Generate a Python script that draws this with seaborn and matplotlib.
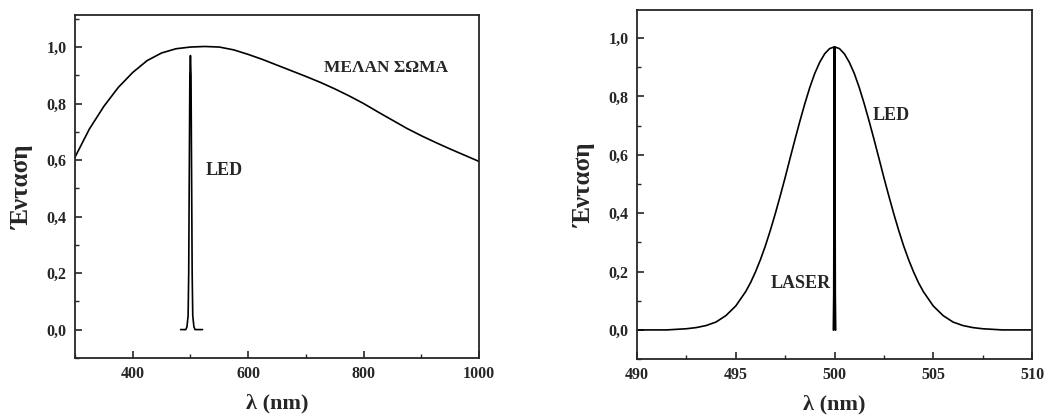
"""Black body vs LED vs LASER spectra, two panels."""

import matplotlib
matplotlib.use("Agg")
import matplotlib.pyplot as plt
from matplotlib.ticker import MultipleLocator, FuncFormatter
import seaborn as sns

# --- left panel: black body + LED (nm, normalised intensity) ---
bb_wavelength = [300, 325, 350, 375, 400, 425, 450, 475, 500, 525, 550, 575, 600, 625,
                 650, 675, 700, 725, 750, 775, 800, 825, 850, 875, 900, 925, 950, 975, 1000]
bb_intensity = [0.61, 0.71, 0.79, 0.857, 0.91, 0.952, 0.979, 0.994, 1.0, 1.002, 1.0, 0.99,
                0.974, 0.956, 0.936, 0.916, 0.896, 0.875, 0.852, 0.827, 0.80, 0.77, 0.741,
                0.712, 0.686, 0.662, 0.639, 0.617, 0.595]

led_wide_wavelength = [483, 492, 494, 496, 497, 498, 499, 500, 501, 502, 503, 504, 506, 508, 521]
led_wide_intensity = [0.0, 0.0, 0.01, 0.05, 0.2, 0.55, 0.9, 0.97, 0.9, 0.55, 0.2, 0.05, 0.01, 0.0, 0.0]

# --- right panel: LED + LASER zoomed around 500 nm ---
led_wavelength = [490, 491, 491.5, 492, 492.5, 493, 493.5, 494, 494.5, 495, 495.5,
                  495.75, 496, 496.25, 496.5, 496.75, 497, 497.25, 497.5, 497.75, 498,
                  498.25, 498.5, 498.75, 499, 499.25, 499.5, 499.75, 500, 500.25, 500.5,
                  500.75, 501, 501.25, 501.5, 501.75, 502, 502.25, 502.5, 502.75, 503,
                  503.25, 503.5, 503.75, 504, 504.25, 504.5, 505, 505.5, 506, 506.5, 507,
                  507.5, 508, 508.5, 509, 510]
led_intensity = [0.0, 0.0, 0.0, 0.002, 0.004, 0.008, 0.015, 0.027, 0.049, 0.082, 0.131,
                 0.162, 0.199, 0.241, 0.288, 0.341, 0.398, 0.459, 0.522, 0.588, 0.653,
                 0.716, 0.776, 0.831, 0.879, 0.917, 0.946, 0.964, 0.97, 0.964, 0.946,
                 0.917, 0.879, 0.831, 0.776, 0.716, 0.653, 0.588, 0.522, 0.459, 0.398,
                 0.341, 0.288, 0.241, 0.199, 0.162, 0.131, 0.082, 0.049, 0.027, 0.015,
                 0.008, 0.004, 0.002, 0.0, 0.0, 0.0]

laser_wavelength = [499.95, 499.97, 500.0, 500.03, 500.05]
laser_intensity = [0.0, 0.12, 0.97, 0.12, 0.0]

sns.set_style("ticks")
plt.rcParams["font.family"] = ["Liberation Serif", "DejaVu Serif"]

fig = plt.figure(figsize=(10.47, 4.2), dpi=100)
ax1 = fig.add_axes([0.0716, 0.148, 0.386, 0.816])
ax2 = fig.add_axes([0.6084, 0.145, 0.3773, 0.831])

line_kw = dict(color="black", linewidth=1.2, estimator=None, legend=False, sort=False)

sns.lineplot(x=bb_wavelength, y=bb_intensity, ax=ax1, **line_kw)
sns.lineplot(x=led_wide_wavelength, y=led_wide_intensity, ax=ax1, **line_kw)
sns.lineplot(x=led_wavelength, y=led_intensity, ax=ax2, **line_kw)
sns.lineplot(x=laser_wavelength, y=laser_intensity, ax=ax2, color="black",
             linewidth=1.5, estimator=None, legend=False, sort=False)

comma = FuncFormatter(lambda v, p: f"{v:.1f}".replace(".", ","))

ax1.set_xlim(300, 1000)
ax1.set_ylim(-0.1, 1.113)
ax1.set_xticks([400, 600, 800, 1000])
ax1.xaxis.set_minor_locator(MultipleLocator(100))

ax2.set_xlim(490, 510)
ax2.set_ylim(-0.1, 1.096)
ax2.set_xticks([490, 495, 500, 505, 510])
ax2.xaxis.set_minor_locator(MultipleLocator(2.5))

for ax in (ax1, ax2):
    ax.set_yticks([0.0, 0.2, 0.4, 0.6, 0.8, 1.0])
    ax.yaxis.set_minor_locator(MultipleLocator(0.1))
    ax.yaxis.set_major_formatter(comma)
    ax.tick_params(which="major", direction="in", length=5, width=1.2,
                   labelsize=11.5, pad=6)
    ax.tick_params(which="minor", direction="in", length=3, width=1.0)
    for lab in ax.get_xticklabels() + ax.get_yticklabels():
        lab.set_fontweight("bold")
    for spine in ax.spines.values():
        spine.set_linewidth(1.3)
        spine.set_visible(True)
    ax.set_xlabel("λ (nm)", fontsize=16, fontweight="bold", labelpad=8)
    ax.set_ylabel("Ένταση", fontsize=18, fontweight="bold", labelpad=9)

ax1.text(731, 0.925, "ΜΕΛΑΝ ΣΩΜΑ", fontsize=12.5, fontweight="bold", va="center", ha="left")
ax1.text(527, 0.564, "LED", fontsize=13, fontweight="bold", va="center", ha="left")
ax2.text(501.95, 0.735, "LED", fontsize=13, fontweight="bold", va="center", ha="left")
ax2.text(499.8, 0.158, "LASER", fontsize=13, fontweight="bold", va="center", ha="right")

fig.savefig("out.png", dpi=100)
plt.close(fig)
